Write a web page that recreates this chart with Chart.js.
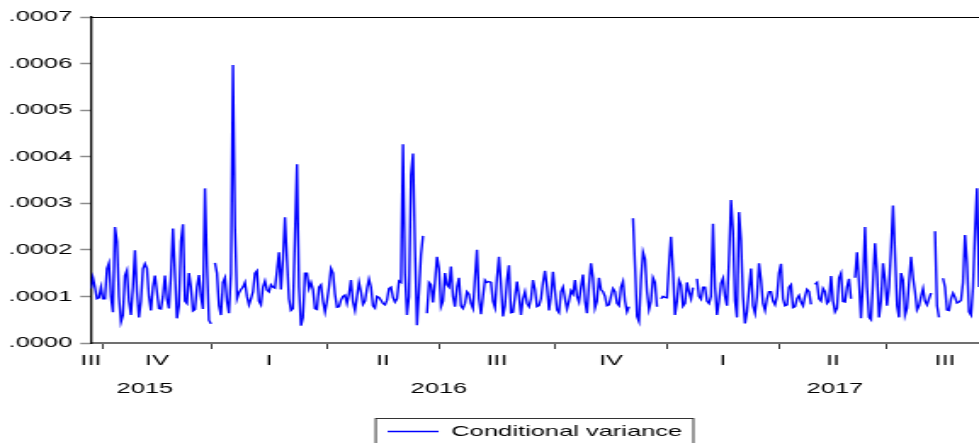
<!DOCTYPE html>
<html>
<head>
<meta charset="utf-8">
<script src="https://cdn.jsdelivr.net/npm/chart.js@4.4.1/dist/chart.umd.min.js"></script>
<style>
  html, body { margin: 0; padding: 0; background: #fff; }
</style>
</head>
<body>
<!-- the original graph is stretched sideways, so the canvas is drawn narrow and widened by CSS -->
<canvas id="chart" width="576" height="443" style="display:block;width:979px;height:443px"></canvas>
<script>
// Conditional variance, one value per trading day (null = missing day)
// late Sep 2015 - early Feb 2016
const condVar1 = [
  1.17e-4, 1.4e-4, 1.2e-4, 0.95e-4, 0.97e-4, 1.2e-4, 0.95e-4, 0.95e-4, 1.6e-4, 1.72e-4,
  1.0e-4, 0.66e-4, 2.49e-4, 2.18e-4, 1.0e-4, 0.45e-4, 0.6e-4, 1.45e-4, 1.56e-4, 0.9e-4,
  0.6e-4, 1.2e-4, 1.99e-4, 1.1e-4, 0.55e-4, 0.9e-4, 1.59e-4, 1.7e-4, 1.6e-4, 1.0e-4,
  0.7e-4, 1.2e-4, 1.45e-4, 1.1e-4, 0.74e-4, 0.73e-4, 1.0e-4, 1.45e-4, 0.95e-4, 0.74e-4,
  1.45e-4, 2.46e-4, 1.5e-4, 0.53e-4, 0.8e-4, 2.18e-4, 2.55e-4, 0.9e-4, 0.85e-4, 1.5e-4,
  1.2e-4, 0.69e-4, 0.72e-4, 1.2e-4, 1.46e-4, 1.0e-4, 0.73e-4, 3.32e-4, 1.66e-4, 0.49e-4,
  0.41e-4, null, 1.72e-4, 1.5e-4, 0.8e-4, 0.6e-4, 1.3e-4, 1.4e-4, 0.9e-4, 0.64e-4,
  1.5e-4, 5.97e-4, 2.5e-4, 0.95e-4
];
// Feb 2016 - May 2016
const condVar2 = [
  1.08e-4, 1.15e-4, 1.2e-4, 1.3e-4, 1.0e-4, 0.82e-4, 0.95e-4, 1.1e-4, 1.5e-4, 1.55e-4,
  0.9e-4, 0.82e-4, 1.2e-4, 1.33e-4, 1.14e-4, 1.1e-4, 1.25e-4, 1.2e-4, 1.18e-4, 1.55e-4,
  1.95e-4, 1.15e-4, 1.8e-4, 2.7e-4, 1.8e-4, 0.95e-4, 0.7e-4, 0.74e-4, 2.3e-4, 3.84e-4,
  1.2e-4, 0.37e-4, 0.55e-4, 1.5e-4, 1.5e-4, 1.17e-4, 1.3e-4, 1.15e-4, 0.74e-4, 0.72e-4,
  1.2e-4, 1.25e-4, 0.9e-4, 0.67e-4, 0.9e-4, 1.2e-4, 1.6e-4, 1.5e-4, 1.05e-4, 0.77e-4,
  0.78e-4, 0.92e-4, 1.0e-4, 1.03e-4, 0.85e-4, 1.05e-4, 1.35e-4, 0.88e-4, 0.7e-4, 1.0e-4,
  1.3e-4, 1.1e-4, 0.83e-4, 0.9e-4, 1.17e-4, 1.37e-4, 1.2e-4, 0.8e-4, 0.75e-4, 1.0e-4,
  0.98e-4, 0.92e-4, 0.85e-4, 0.82e-4
];
// May 2016 - Sep 2016
const condVar3 = [
  0.92e-4, 1.17e-4, 1.2e-4, 0.98e-4, 0.88e-4, 0.95e-4, 1.33e-4, 1.3e-4, 4.27e-4, 1.5e-4,
  0.6e-4, 1.0e-4, 3.6e-4, 4.07e-4, 2.0e-4, 0.38e-4, 1.1e-4, 1.89e-4, 2.3e-4, null,
  0.64e-4, 1.3e-4, 1.25e-4, 0.87e-4, 1.3e-4, 1.85e-4, 1.6e-4, 0.78e-4, 0.9e-4, 1.5e-4,
  1.25e-4, 1.2e-4, 1.64e-4, 1.0e-4, 0.78e-4, 1.2e-4, 1.4e-4, 0.8e-4, 0.74e-4, 0.85e-4,
  1.1e-4, 1.05e-4, 0.85e-4, 0.74e-4, 1.4e-4, 2.0e-4, 0.95e-4, 0.62e-4, 1.0e-4, 1.35e-4,
  1.3e-4, 1.32e-4, 1.3e-4, 0.9e-4, 0.76e-4, 1.4e-4, 1.85e-4, 1.25e-4, 0.57e-4, 0.8e-4,
  1.35e-4, 1.67e-4, 0.65e-4, 0.66e-4, 1.0e-4, 1.32e-4, 1.0e-4, 0.6e-4, 0.95e-4, 1.1e-4,
  0.85e-4, 0.78e-4, 0.95e-4, 1.35e-4
];
// Sep 2016 - Jan 2017
const condVar4 = [
  1.15e-4, 0.78e-4, 0.8e-4, 0.95e-4, 1.3e-4, 1.55e-4, 1.2e-4, 0.7e-4, 1.0e-4, 1.53e-4,
  1.1e-4, 0.71e-4, 0.65e-4, 1.1e-4, 1.2e-4, 0.95e-4, 0.73e-4, 0.9e-4, 1.12e-4, 1.05e-4,
  1.35e-4, 1.0e-4, 0.88e-4, 1.2e-4, 1.47e-4, 0.9e-4, 0.64e-4, 1.25e-4, 1.71e-4, 1.4e-4,
  0.75e-4, 0.9e-4, 1.4e-4, 1.15e-4, 1.1e-4, 1.0e-4, 0.8e-4, 0.82e-4, 1.0e-4, 1.17e-4,
  1.1e-4, 0.85e-4, 0.8e-4, 1.2e-4, 1.32e-4, 0.9e-4, 0.67e-4, 0.78e-4, null, 2.68e-4,
  1.67e-4, 0.57e-4, 0.46e-4, 1.35e-4, 1.95e-4, 1.8e-4, 1.1e-4, 0.72e-4, 0.9e-4, 1.4e-4,
  1.3e-4, 0.78e-4, null, 0.95e-4, 1.0e-4, 0.98e-4, 0.97e-4, 1.67e-4, 2.28e-4, 1.55e-4,
  0.6e-4, 0.9e-4, 1.35e-4, 1.25e-4
];
// Jan 2017 - May 2017
const condVar5 = [
  0.79e-4, 0.85e-4, 1.3e-4, 1.1e-4, 0.95e-4, 1.19e-4, null, 1.38e-4, 1.0e-4, 0.94e-4,
  1.2e-4, 1.2e-4, 0.9e-4, 0.85e-4, 1.0e-4, 2.56e-4, 1.2e-4, 0.6e-4, 0.9e-4, 1.28e-4,
  1.39e-4, 1.0e-4, 0.8e-4, 1.8e-4, 3.07e-4, 2.4e-4, 0.9e-4, 0.55e-4, 2.81e-4, 2.2e-4,
  1.0e-4, 0.42e-4, 0.67e-4, 1.15e-4, 1.6e-4, 0.8e-4, 0.64e-4, 1.0e-4, 1.71e-4, 1.35e-4,
  0.85e-4, 0.7e-4, 0.95e-4, 1.1e-4, 1.1e-4, 0.9e-4, 0.82e-4, 1.0e-4, 1.5e-4, 1.7e-4,
  0.95e-4, 0.8e-4, 0.82e-4, 1.2e-4, 1.25e-4, 0.76e-4, 0.78e-4, 0.95e-4, 1.02e-4, 0.88e-4,
  0.8e-4, 1.0e-4, 1.15e-4, 1.1e-4, 0.83e-4, null, 1.26e-4, 1.3e-4, 0.95e-4, 0.9e-4,
  1.17e-4, 1.1e-4, 0.85e-4, 0.9e-4
];
// May 2017 - Sep 2017
const condVar6 = [
  1.44e-4, 0.9e-4, 0.67e-4, 0.75e-4, 1.4e-4, 1.5e-4, 0.89e-4, 0.88e-4, 1.2e-4, 1.38e-4,
  0.95e-4, null, 1.4e-4, 1.95e-4, 1.3e-4, 0.53e-4, 1.3e-4, 2.49e-4, 1.2e-4, 0.55e-4,
  0.5e-4, 1.3e-4, 2.14e-4, 1.5e-4, 0.55e-4, 0.9e-4, 1.71e-4, 1.35e-4, 0.8e-4, 1.2e-4,
  2.0e-4, 2.95e-4, 1.9e-4, 0.8e-4, 0.55e-4, 1.5e-4, 1.35e-4, 0.6e-4, 0.75e-4, 1.3e-4,
  1.85e-4, 1.4e-4, 1.1e-4, 0.71e-4, 0.8e-4, 1.0e-4, 1.17e-4, 0.9e-4, 0.82e-4, 0.95e-4,
  1.07e-4, null, 2.4e-4, 0.8e-4, 0.55e-4, null, 1.39e-4, 1.2e-4, 0.71e-4, 0.7e-4,
  0.95e-4, 1.07e-4, 0.98e-4, 0.86e-4, 0.88e-4, 0.92e-4, 1.3e-4, 2.32e-4, 1.7e-4, 0.67e-4,
  0.6e-4, 1.2e-4, 2.4e-4, 3.32e-4, 1.2e-4
];

// observation numbers where each quarter starts (tick marks)
const quarterStartObs = [6, 60, 118, 174, 232, 288, 344, 398];
// quarter and year labels, placed at observation numbers
const quarterLabelObs = [0, 33, 89, 146, 203, 260, 316, 371, 427];
const quarterLabels = ['III', 'IV', 'I', 'II', 'III', 'IV', 'I', 'II', 'III'];
const yearLabelObs = [27, 174, 372];
const yearLabels = ['2015', '2016', '2017'];
const yTicks = [0, 0.0001, 0.0002, 0.0003, 0.0004, 0.0005, 0.0006, 0.0007];
const yTickLabels = ['.0000', '.0001', '.0002', '.0003', '.0004', '.0005', '.0006', '.0007'];

const condVar = [].concat(condVar1, condVar2, condVar3, condVar4, condVar5, condVar6);
const points = condVar.map((v, i) => ({ x: i, y: v }));
const lastObs = condVar.length - 1;

const FONT = { family: "'Liberation Sans', Arial, sans-serif", size: 15 };

// EViews draws a frame round the legend
const legendFrame = {
  id: 'legendFrame',
  afterDraw(chart) {
    const lg = chart.legend;
    if (!lg || !lg.legendHitBoxes || !lg.legendHitBoxes.length) return;
    const hb = lg.legendHitBoxes[0];
    const ctx = chart.ctx;
    ctx.save();
    ctx.strokeStyle = '#333';
    ctx.lineWidth = 1;
    ctx.strokeRect(hb.left - 7, hb.top - 5.5, hb.width + 13.5, 60);
    ctx.restore();
  }
};

function fixedTicks(list) {
  return axis => { axis.ticks = list.map(v => ({ value: v })); };
}

new Chart(document.getElementById('chart'), {
  type: 'line',
  data: {
    datasets: [{
      label: 'Conditional variance',
      data: points,
      borderColor: '#0000ff',
      backgroundColor: '#0000ff',
      borderWidth: 1.4,
      pointRadius: 0,
      tension: 0,
      fill: false,
      spanGaps: false,
      xAxisID: 'x',
      yAxisID: 'y'
    }]
  },
  options: {
    responsive: false,
    devicePixelRatio: 1,
    animation: false,
    events: [],
    layout: { padding: { top: 17, left: 0, right: 0, bottom: -6 } },
    scales: {
      x: {
        type: 'linear',
        position: 'bottom',
        min: 0,
        max: lastObs,
        bounds: 'data',
        afterBuildTicks: fixedTicks(quarterStartObs),
        ticks: { display: false },
        grid: { display: true, drawOnChartArea: false, drawTicks: true, tickLength: 6, tickColor: '#333', tickWidth: 1 },
        border: { display: true, color: '#707070', width: 2 }
      },
      xq: {
        type: 'linear',
        position: 'bottom',
        min: 0,
        max: lastObs,
        bounds: 'data',
        afterBuildTicks: fixedTicks(quarterLabelObs),
        ticks: {
          autoSkip: false, maxRotation: 0, padding: 3, color: '#000', font: FONT,
          callback: (v, i) => quarterLabels[i]
        },
        grid: { display: false, drawTicks: false },
        border: { display: false }
      },
      xy: {
        type: 'linear',
        position: 'bottom',
        min: 0,
        max: lastObs,
        bounds: 'data',
        afterBuildTicks: fixedTicks(yearLabelObs),
        ticks: {
          autoSkip: false, maxRotation: 0, padding: 7, color: '#000', font: FONT,
          callback: (v, i) => yearLabels[i]
        },
        grid: { display: false, drawTicks: false },
        border: { display: false }
      },
      xt: {
        type: 'linear',
        position: 'top',
        min: 0,
        max: lastObs,
        ticks: { display: false },
        grid: { display: false, drawTicks: false },
        border: { display: true, color: '#000', width: 1 }
      },
      y: {
        type: 'linear',
        position: 'left',
        min: 0,
        max: 0.0007,
        afterBuildTicks: fixedTicks(yTicks),
        afterFit: axis => { axis.width = 53.5; },
        ticks: {
          padding: 4.7, color: '#000', font: FONT,
          callback: (v, i) => yTickLabels[i]
        },
        grid: { display: true, drawOnChartArea: false, drawTicks: true, tickLength: 6.3, tickColor: '#8c8c8c', tickWidth: 1.5 },
        border: { display: true, color: '#000', width: 1.3 }
      }
    },
    plugins: {
      legend: {
        display: true,
        position: 'bottom',
        fullSize: false,
        labels: {
          usePointStyle: true,
          pointStyle: 'line',
          pointStyleWidth: 30,
          padding: 19,
          color: '#000',
          font: FONT
        }
      },
      tooltip: { enabled: false }
    }
  },
  plugins: [legendFrame]
});
</script>
</body>
</html>
